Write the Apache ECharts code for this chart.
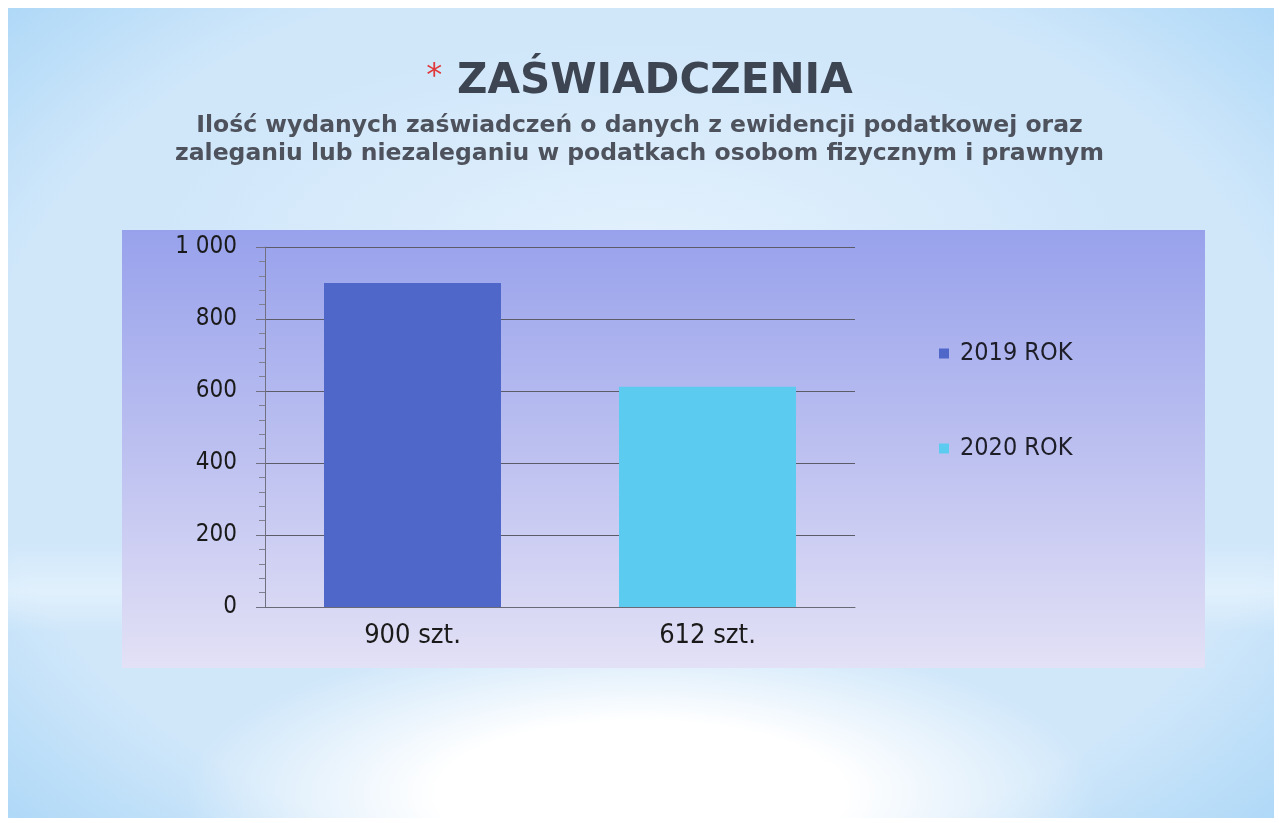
<!DOCTYPE html>
<html>
<head>
<meta charset="utf-8">
<script src="https://cdn.jsdelivr.net/npm/echarts@6/dist/echarts.min.js"></script>
<style>
    html, body { margin: 0; padding: 0; background: #fff; }
    #slide {
        position: absolute; left: 8px; top: 8px; width: 1266px; height: 810px;
        background:
            radial-gradient(ellipse 36% 20% at 50% 97%, #ffffff 45%, rgba(255,255,255,0) 100%),
            radial-gradient(ellipse 38% 26% at 50% 30%, rgba(232,243,253,0.8) 0%, rgba(232,243,253,0) 100%),
            linear-gradient(180deg, rgba(255,255,255,0) 66%, rgba(236,246,254,0.6) 72%, rgba(255,255,255,0) 77%),
            radial-gradient(ellipse 72% 78% at 50% 50%, rgba(168,214,247,0) 72%, rgba(160,210,246,0.85) 100%),
            #d0e7fa;
    }
    #chart { position: absolute; left: 0; top: 0; width: 1279px; height: 823px; }
</style>
</head>
<body>
<div id="slide"></div>
<div id="chart"></div>
<script>
// dane z wykresu
var categories = ['900 szt.', '612 szt.'];
var seriesNames = ['2019 ROK', '2020 ROK'];
var values2019 = [900, '-'];
var values2020 = ['-', 612];
var colors = ['#4f67c8', '#5ccbf0'];

var labelFont = 'DejaVu Sans Condensed';

var myChart = echarts.init(document.getElementById('chart'));
myChart.setOption({
    animation: false,
    title: [{
        text: '{star|*} ZAŚWIADCZENIA',
        left: 'center',
        top: 56,
        textStyle: {
            fontFamily: 'DejaVu Sans',
            fontSize: 42,
            fontWeight: 'bold',
            color: '#3e4552',
            rich: {
                star: { color: '#e0393c', fontSize: 32, fontWeight: 'normal', fontFamily: 'DejaVu Sans', verticalAlign: 'top' }
            }
        }
    }, {
        text: 'Ilość wydanych zaświadczeń o danych z ewidencji podatkowej oraz\nzaleganiu lub niezaleganiu w podatkach osobom fizycznym i prawnym',
        left: 'center',
        top: 107,
        textStyle: {
            fontFamily: 'DejaVu Sans',
            fontSize: 23.5,
            fontWeight: 'bold',
            color: '#4e525c',
            lineHeight: 28,
            align: 'center'
        }
    }],
    graphic: [{
        type: 'rect',
        z: -10,
        shape: { x: 122, y: 230, width: 1083, height: 438 },
        style: {
            fill: new echarts.graphic.LinearGradient(0, 0, 0, 1, [
                { offset: 0, color: '#98a2ec' },
                { offset: 0.5, color: '#bcc0f0' },
                { offset: 1, color: '#e3e1f6' }
            ])
        }
    }],
    legend: {
        orient: 'vertical',
        left: 934,
        top: 336,
        itemGap: 70,
        itemWidth: 10,
        itemHeight: 10,
        icon: 'rect',
        data: seriesNames,
        textStyle: { fontFamily: labelFont, fontSize: 25, color: '#1e1e28', padding: [0, 0, 0, 6] }
    },
    grid: { left: 265, top: 247, width: 590, height: 360 },
    xAxis: {
        type: 'category',
        data: categories,
        axisLine: { lineStyle: { color: '#6a6a76' } },
        axisTick: { show: false },
        axisLabel: { fontFamily: labelFont, fontSize: 27, color: '#1a1a1a', margin: 15 }
    },
    yAxis: {
        type: 'value',
        min: 0,
        max: 1000,
        interval: 200,
        axisLine: { show: true, lineStyle: { color: '#707080' } },
        axisTick: { show: true, length: 9, lineStyle: { color: '#707080' } },
        minorTick: { show: true, splitNumber: 5, length: 6, lineStyle: { color: '#808090' } },
        splitLine: { lineStyle: { color: '#5c5c68', width: 1 } },
        axisLabel: {
            fontFamily: labelFont,
            fontSize: 24,
            color: '#1a1a1a',
            margin: 28,
            formatter: function (v) {
                return v >= 1000 ? (Math.floor(v / 1000) + ' ' + String(v % 1000).padStart(3, '0')) : String(v);
            }
        }
    },
    series: [{
        name: seriesNames[0],
        type: 'bar',
        stack: 'rok',
        barWidth: '60%',
        itemStyle: { color: colors[0] },
        data: values2019
    }, {
        name: seriesNames[1],
        type: 'bar',
        stack: 'rok',
        barWidth: '60%',
        itemStyle: { color: colors[1] },
        data: values2020
    }]
});
window.onresize = myChart.resize;
</script>
</body>
</html>
